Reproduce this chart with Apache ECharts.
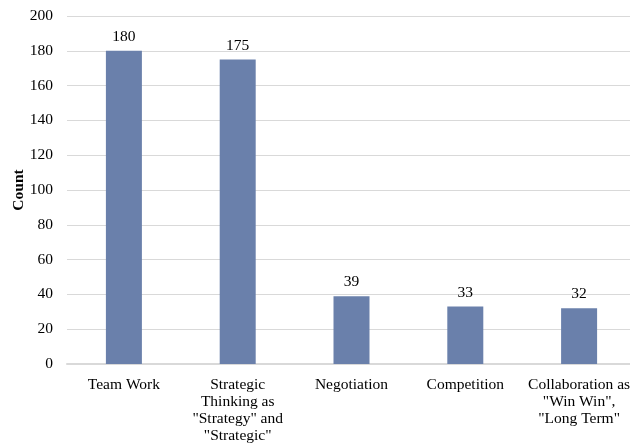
<!DOCTYPE html>
<html>
<head>
<meta charset="utf-8">
<script src="https://cdn.jsdelivr.net/npm/echarts@6/dist/echarts.min.js"></script>
<style>
  html, body { margin: 0; padding: 0; background: #fff; }
  #chart { width: 630px; height: 444px; }
</style>
</head>
<body>
<div id="chart"></div>
<script>
const categories = [
  'Team Work',
  'Strategic\nThinking as\n"Strategy" and\n"Strategic"',
  'Negotiation',
  'Competition',
  'Collaboration as\n"Win Win",\n"Long Term"'
];
const counts = [180, 175, 39, 33, 32];

const font = '"Liberation Serif", "Times New Roman", serif';
const chart = echarts.init(document.getElementById('chart'));

chart.setOption({
  animation: false,
  grid: { left: 67, right: -6, top: 16, bottom: 80, containLabel: false, outerBoundsMode: 'none' },
  xAxis: {
    type: 'category',
    data: categories,
    axisLine: { lineStyle: { color: '#d9d9d9', width: 2 } },
    axisTick: { show: false },
    axisLabel: {
      color: '#000', fontFamily: font, fontSize: 15.5, lineHeight: 17,
      margin: 12, interval: 0
    }
  },
  yAxis: {
    type: 'value',
    min: 0, max: 200, interval: 20,
    name: 'Count',
    nameLocation: 'middle',
    nameGap: 40,
    nameMoveOverlap: false,
    nameTextStyle: { color: '#000', fontFamily: font, fontSize: 15.5, fontWeight: 'bold' },
    axisLine: { show: false },
    axisTick: { show: false },
    splitLine: { lineStyle: { color: '#d9d9d9', width: 1 } },
    axisLabel: { color: '#000', fontFamily: font, fontSize: 15.5, margin: 14 }
  },
  series: [{
    type: 'bar',
    data: counts,
    barWidth: 36,
    itemStyle: { color: '#6a80ab' },
    label: {
      show: true, position: 'top', distance: 6,
      color: '#000', fontFamily: font, fontSize: 15.5
    }
  }]
});
</script>
</body>
</html>
